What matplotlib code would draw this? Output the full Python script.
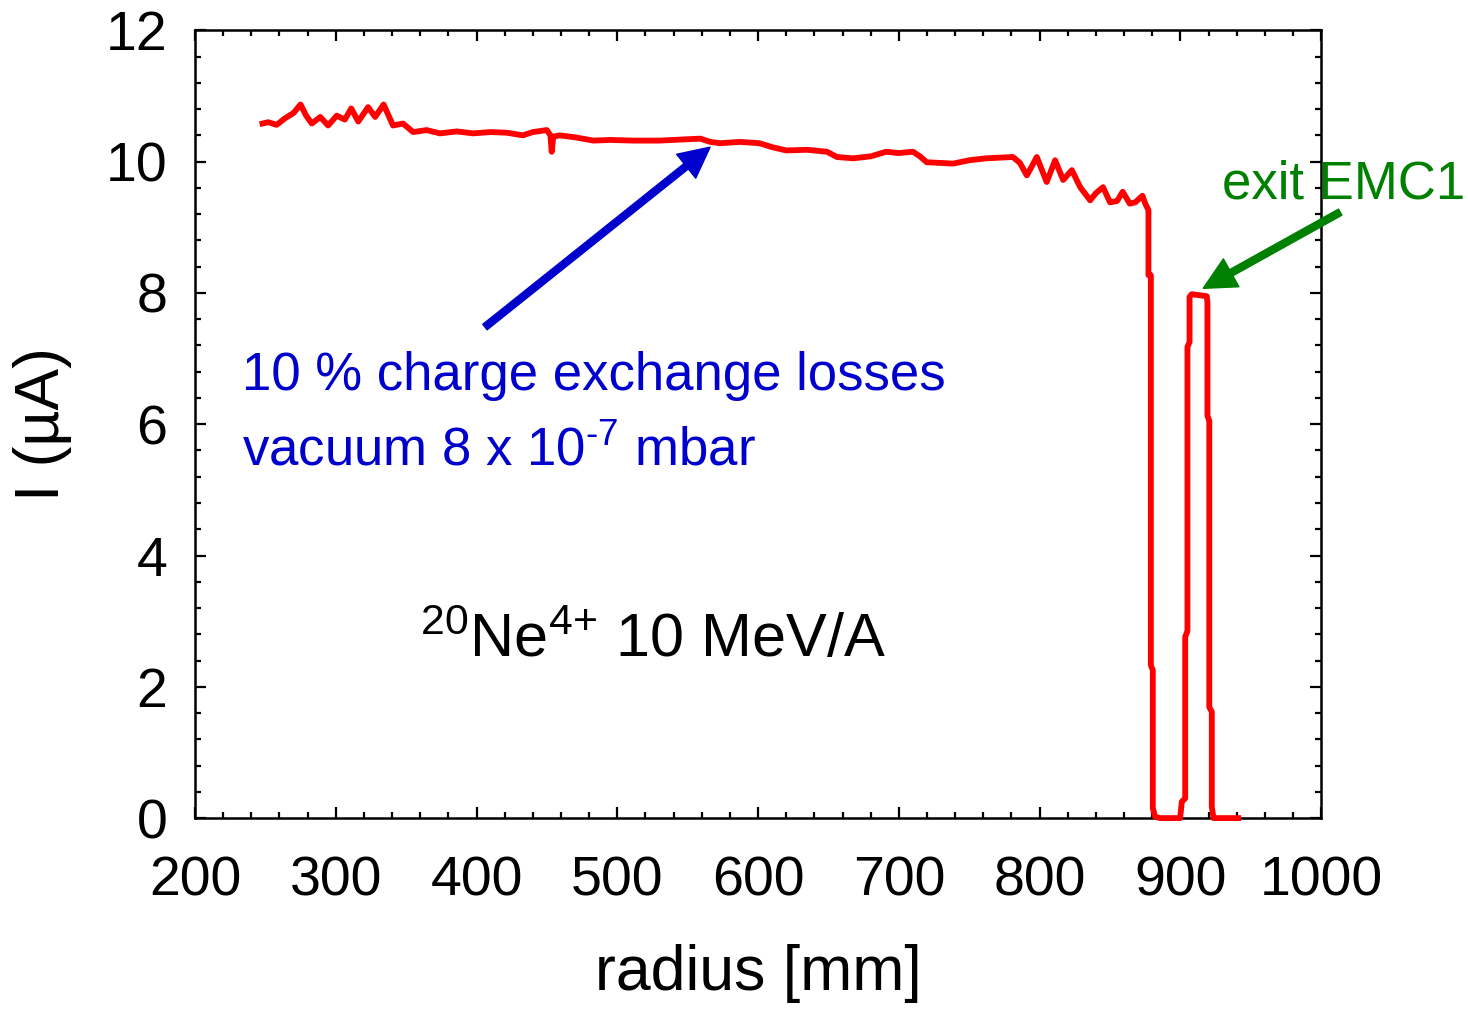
import matplotlib
matplotlib.use("Agg")
import matplotlib.pyplot as plt
from matplotlib.ticker import MultipleLocator

plt.rcParams["font.family"] = ["Liberation Sans", "DejaVu Sans"]
plt.rcParams["mathtext.fontset"] = "custom"
plt.rcParams["mathtext.rm"] = "Liberation Sans"
plt.rcParams["mathtext.it"] = "Liberation Sans"

# beam current along the radius
radius = [248, 252, 258, 264, 270, 275, 279, 283, 289, 294.6, 300.7, 306.5, 311, 316, 323, 328,
          334, 340.7, 347.8, 355, 364.6, 374, 386, 397.5, 410, 421.5, 433, 440, 450, 452.5, 453.4,
          454.5, 459, 470, 483, 495, 511, 530, 559, 566, 573, 587, 601, 610, 620, 635, 649, 656,
          667.6, 680, 691, 700, 710, 715, 719.8, 738.6, 750, 762, 781, 786, 790.9, 795, 798, 802,
          805, 811, 816.7, 822.9, 828.8, 835.9, 840, 845, 850, 855, 859, 864, 868, 873, 875, 877.3,
          877.3, 879, 879, 880.4, 880.4, 882, 885.6, 899.8, 901, 903.4, 903.4, 905, 905, 906.5,
          906.5, 908, 918.7, 919.2, 919.2, 920.5, 920.5, 922.3, 922.3, 923.5, 941]
current = [10.58, 10.60, 10.56, 10.66, 10.74, 10.87, 10.70, 10.58, 10.68, 10.55, 10.70, 10.64,
           10.81, 10.61, 10.83, 10.68, 10.87, 10.55, 10.58, 10.45, 10.48, 10.43, 10.46, 10.43,
           10.45, 10.44, 10.40, 10.45, 10.48, 10.40, 10.15, 10.38, 10.40, 10.37, 10.32, 10.33,
           10.32, 10.32, 10.35, 10.30, 10.28, 10.30, 10.28, 10.22, 10.17, 10.18, 10.15, 10.07,
           10.05, 10.08, 10.15, 10.13, 10.15, 10.08, 9.99, 9.97, 10.02, 10.05, 10.07, 9.98, 9.79,
           9.95, 10.07, 9.85, 9.69, 10.02, 9.72, 9.87, 9.61, 9.41, 9.52, 9.61, 9.38, 9.40, 9.54,
           9.36, 9.38, 9.48, 9.36, 9.26,
           8.27, 8.27, 2.33, 2.25, 0.15, 0.02, 0.0, 0.0, 0.25, 0.30, 2.76, 2.85, 7.18, 7.25,
           7.94, 7.98, 7.95, 7.85, 6.13, 6.05, 1.69, 1.62, 0.17, 0.0, 0.0]

fig = plt.figure(figsize=(14.68, 10.10), dpi=100)
ax = fig.add_axes([0.1328, 0.190, 0.7672, 0.780])

ax.plot(radius, current, color="red", lw=4.2, clip_on=False, zorder=5)

ax.set_xlim(200, 1000)
ax.set_ylim(0, 12)
ax.xaxis.set_major_locator(MultipleLocator(100))
ax.xaxis.set_minor_locator(MultipleLocator(20))
ax.yaxis.set_major_locator(MultipleLocator(2))
ax.yaxis.set_minor_locator(MultipleLocator(0.4))
ax.tick_params(which="both", direction="in", top=True, right=True, width=1.6)
ax.tick_params(which="major", length=8, labelsize=40)
ax.tick_params(axis="x", which="major", pad=27)
ax.tick_params(axis="y", which="major", pad=20)
ax.tick_params(which="minor", length=4.5)
for s in ax.spines.values():
    s.set_linewidth(1.8)

ax.set_xlabel("radius [mm]", fontsize=45, labelpad=26)
ax.set_ylabel("I (µA)", fontsize=45, labelpad=24)

ax.text(233.4, 6.52, "10 % charge exchange losses", color="#0000cc", fontsize=38, va="baseline")
ax.text(233.4, 5.38, r"vacuum 8 x 10$^{\text{-7}}$ mbar", color="#0000cc", fontsize=38,
        va="baseline")
ax.text(359.9, 2.45, r"$^{\text{20}}$Ne$^{\text{4+}}$ 10 MeV/A", color="black",
        fontsize=44, va="baseline")
ax.text(929.7, 9.44, "exit EMC1", color="green", fontsize=38, va="baseline", clip_on=False)

ax.annotate("", xy=(565.9, 10.22), xytext=(406, 7.48),
            arrowprops=dict(facecolor="#0000cc", edgecolor="#0000cc", width=5,
                            headwidth=22, headlength=22, shrink=0))
ax.annotate("", xy=(916.2, 8.07), xytext=(1013.5, 9.23), annotation_clip=False,
            arrowprops=dict(facecolor="green", edgecolor="green", width=5,
                            headwidth=23, headlength=23, shrink=0))

fig.savefig("out.png", dpi=100)
